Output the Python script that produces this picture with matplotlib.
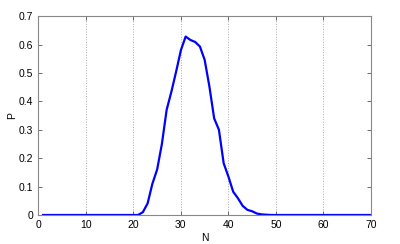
import matplotlib
matplotlib.use("Agg")
import matplotlib.pyplot as plt

N = list(range(1, 71))
P_nonzero = {21: 0.0, 22: 0.01, 23: 0.041, 24: 0.11, 25: 0.16, 26: 0.25, 27: 0.37,
             28: 0.434, 29: 0.505, 30: 0.58, 31: 0.628, 32: 0.616, 33: 0.609,
             34: 0.593, 35: 0.546, 36: 0.452, 37: 0.34, 38: 0.30, 39: 0.182,
             40: 0.135, 41: 0.082, 42: 0.059, 43: 0.032, 44: 0.018, 45: 0.013,
             46: 0.005, 47: 0.002, 48: 0.001}
P = [P_nonzero.get(n, 0.0) for n in N]

xticks = [0, 10, 20, 30, 40, 50, 60, 70]
yticks = [0, 0.1, 0.2, 0.3, 0.4, 0.5, 0.6, 0.7]

plt.rcParams['font.family'] = ['Liberation Sans', 'DejaVu Sans']
fig = plt.figure(figsize=(4, 2.44), dpi=100)
ax = fig.add_axes([0.0958, 0.1189, 0.8317, 0.8151])
ax.plot(N, P, color=(0, 0, 1), lw=1.6)
ax.set_xlim(0, 70)
ax.set_ylim(0, 0.7)
ax.set_xticks(xticks)
ax.set_yticks(yticks)
ax.set_yticklabels(["0" if v == 0 else f"{v:g}" for v in yticks])
ax.xaxis.grid(True, linestyle=':', color='#aaaaaa', lw=0.7)
ax.tick_params(direction='in', length=3, labelsize=7.5, colors='#555555',
               labelcolor='black', top=True, right=True, width=0.6)
for s in ax.spines.values():
    s.set_color('#888888')
    s.set_linewidth(0.8)
ax.set_xlabel("N", fontsize=7.5, labelpad=2)
ax.set_ylabel("P", fontsize=7.5, labelpad=1)
fig.savefig("out.png", dpi=100)
